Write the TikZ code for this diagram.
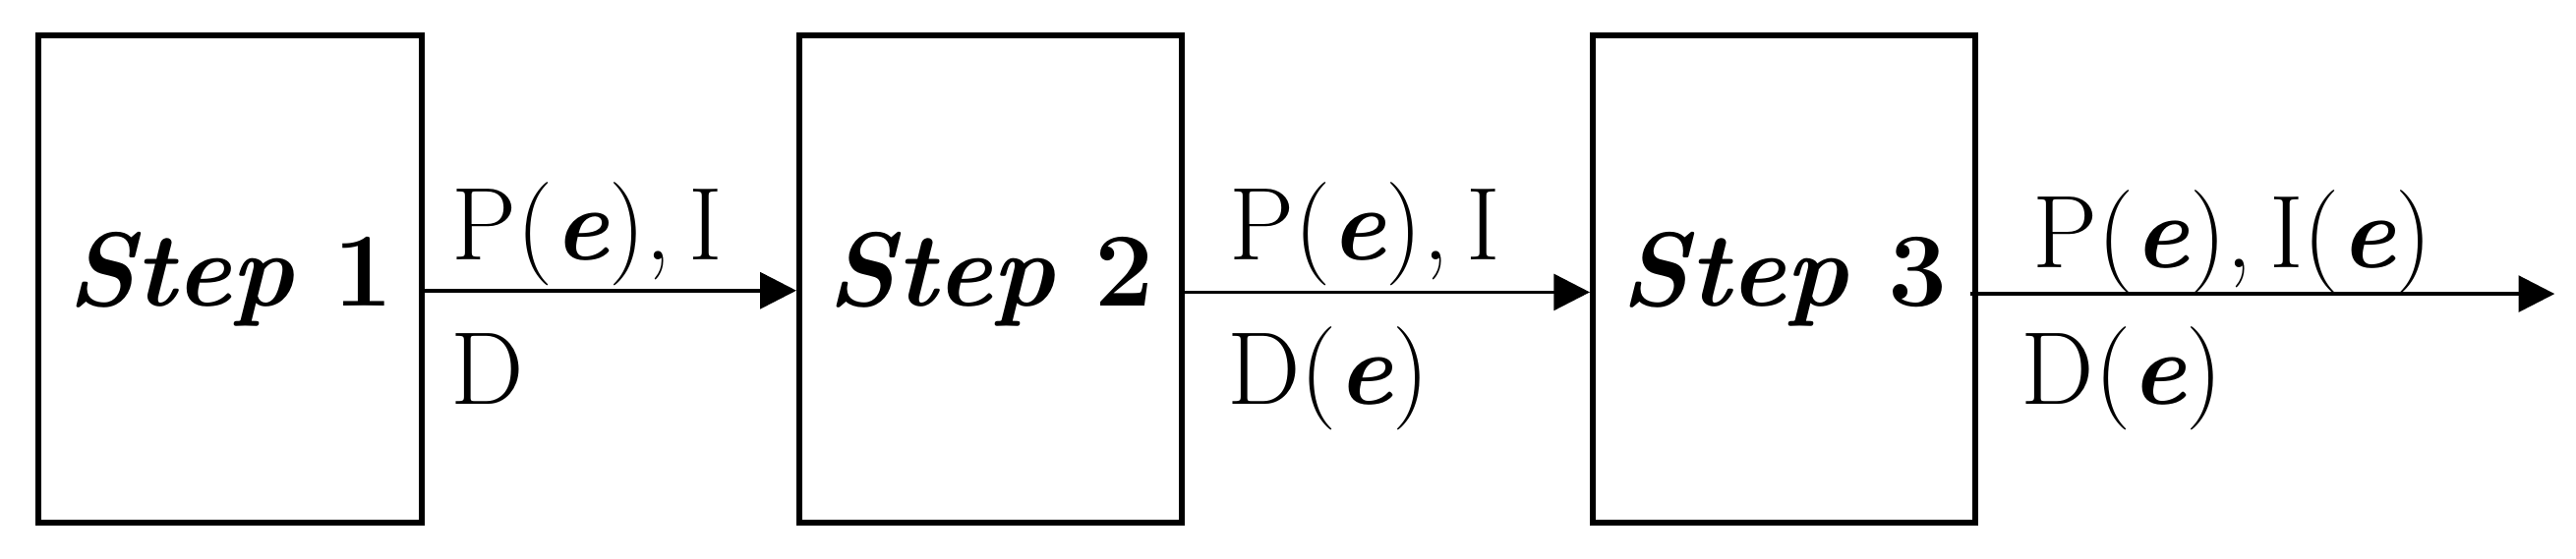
\documentclass[tikz,border=0pt]{standalone}
\usetikzlibrary{arrows.meta}
\begin{document}
\begin{tikzpicture}[x=1pt,y=-1pt,
  stepbox/.style={draw,line width=3.5pt,minimum width=233pt,minimum height=297pt,inner sep=0pt,
    font=\fontsize{64}{64}\selectfont\bfseries},
  lbl/.style={anchor=base west,inner sep=0pt,font=\fontsize{63}{63}\selectfont},
  arr/.style={line width=2.2pt,-{Triangle[length=22pt,width=22pt]}}]
\useasboundingbox (0,0) rectangle (1568,340);
\node[stepbox] (b1) at (140,170) {\textit{Step} 1};
\node[stepbox] (b2) at (603,170) {\textit{Step} 2};
\node[stepbox] (b3) at (1086,170) {\textit{Step} 3};
\coordinate (end) at (1555,179);
\draw[arr] ([yshift=-7pt]b1.east) -- ([yshift=-7pt]b2.west);
\draw[arr] ([yshift=-8pt]b2.east) -- ([yshift=-8pt]b3.west);
\draw[arr] ([xshift=-5pt,yshift=-9pt]b3.east) -- (end);
\node[lbl] (t1) at (275,158) {P(\textbf{\textit{e}}),\,I};
\node[lbl] (d1) at (274,246) {D};
\node[lbl] (t2) at (748,158) {P(\textbf{\textit{e}}),\,I};
\node[lbl] (d2) at (747,246) {D(\textbf{\textit{e}})};
\node[lbl] (t3) at (1237,163) {P(\textbf{\textit{e}}),\,I(\textbf{\textit{e}})};
\node[lbl] (d3) at (1230,246) {D(\textbf{\textit{e}})};
\end{tikzpicture}
\end{document}
